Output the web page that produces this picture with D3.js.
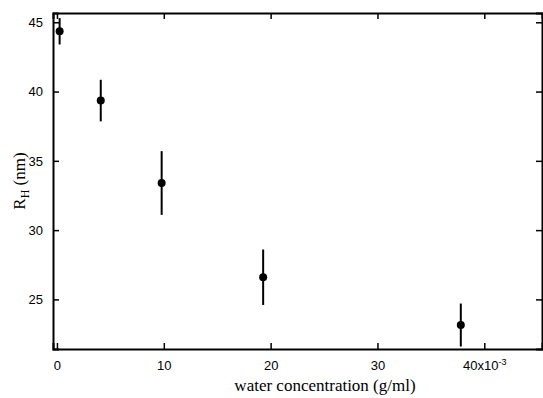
<!DOCTYPE html>
<html>
<head>
<meta charset="utf-8">
<script src="https://cdn.jsdelivr.net/npm/d3@7"></script>
<style>
  body { margin: 0; background: #fff; }
  .tick text { font-family: "Liberation Sans", Arial, sans-serif; font-size: 13px; fill: #000; }
  .lbl { font-family: "Liberation Serif", "Times New Roman", serif; font-size: 17px; fill: #000; }
</style>
</head>
<body>
<div id="chart"></div>
<script>
// water concentration in units of 1e-3 g/ml
const conc = [0.25, 4.1, 9.8, 19.3, 37.8];
const rh = [44.35, 39.35, 33.4, 26.6, 23.15];
const rhErr = [0.95, 1.5, 2.3, 2.0, 1.55];
const xTicks = [0, 10, 20, 30, 40];
const yTicks = [25, 30, 35, 40, 45];

const width = 543, height = 398;
const box = { left: 53, right: 542, top: 13, bottom: 349 };

const svg = d3.select("#chart")
  .append("svg")
  .attr("width", width)
  .attr("height", height);

const xScale = d3.scaleLinear().domain([-0.37, 45.4]).range([box.left, box.right]);
const yScale = d3.scaleLinear().domain([21.42, 45.67]).range([box.bottom, box.top]);

// axes, ticks pointing inward
const xAxis = d3.axisBottom(xScale).tickValues(xTicks).tickSize(-6).tickPadding(12)
  .tickFormat(d => d === 40 ? "" : d);
const gx = svg.append("g")
  .attr("transform", `translate(0,${box.bottom})`)
  .call(xAxis);

gx.selectAll(".tick")
  .filter(d => d === 40)
  .select("text")
  .each(function() {
    const t = d3.select(this);
    t.append("tspan").text("40x10");
    t.append("tspan").attr("dy", -5).attr("font-size", 9).text("-3");
  });

svg.append("g")
  .attr("transform", `translate(0,${box.top})`)
  .call(d3.axisTop(xScale).tickValues(xTicks).tickSize(-6).tickFormat(""));

svg.append("g")
  .attr("transform", `translate(${box.left},0)`)
  .call(d3.axisLeft(yScale).tickValues(yTicks).tickSize(-6).tickPadding(10));

svg.append("g")
  .attr("transform", `translate(${box.right},0)`)
  .call(d3.axisRight(yScale).tickValues(yTicks).tickSize(-6).tickFormat(""));

svg.selectAll(".domain").attr("stroke", "#000").attr("stroke-width", 2);
svg.selectAll(".tick line").attr("stroke", "#000").attr("stroke-width", 1.5);

// error bars
svg.append("g")
  .selectAll("line")
  .data(conc)
  .join("line")
  .attr("x1", d => xScale(d))
  .attr("x2", d => xScale(d))
  .attr("y1", (d, i) => yScale(rh[i] + rhErr[i]))
  .attr("y2", (d, i) => yScale(rh[i] - rhErr[i]))
  .attr("stroke", "#000")
  .attr("stroke-width", 2);

// points
svg.append("g")
  .selectAll("circle")
  .data(conc)
  .join("circle")
  .attr("cx", d => xScale(d))
  .attr("cy", (d, i) => yScale(rh[i]))
  .attr("r", 4)
  .attr("fill", "#000");

// labels
svg.append("text")
  .attr("class", "lbl")
  .attr("text-anchor", "middle")
  .attr("x", 325)
  .attr("y", 391)
  .text("water concentration (g/ml)");

const yl = svg.append("text")
  .attr("class", "lbl")
  .attr("text-anchor", "middle")
  .attr("transform", "translate(25,181) rotate(-90)");
yl.append("tspan").text("R");
yl.append("tspan").attr("dy", 4).attr("font-size", 12).text("H");
yl.append("tspan").attr("dy", -4).text(" (nm)");
</script>
</body>
</html>
